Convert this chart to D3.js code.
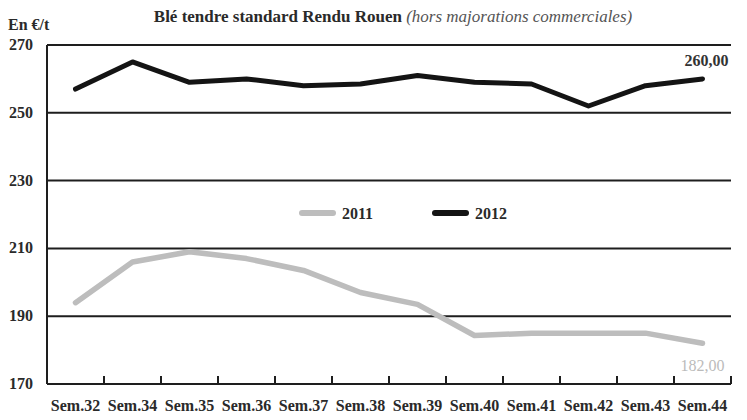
<!DOCTYPE html>
<html><head><meta charset="utf-8">
<script src="https://cdn.jsdelivr.net/npm/d3@7/dist/d3.min.js"></script>
<style>body{margin:0;background:#fff}svg{display:block}text{font-family:"Liberation Serif","Times New Roman",serif}</style>
</head><body>
<script>
const categories = ["Sem.32","Sem.34","Sem.35","Sem.36","Sem.37","Sem.38","Sem.39","Sem.40","Sem.41","Sem.42","Sem.43","Sem.44"];
const values2011 = [194,206,209,207,203.5,197,193.5,184.3,185,185,185,182];
const values2012 = [257,265,259,260,258,258.5,261,259,258.5,252,258,260];
const yTicks = [170,190,210,230,250,270];
const seriesNames = ["2011","2012"];

const W=747,H=420;
const m={l:47,r:16,t:45,b:36};
const svg=d3.select("body").append("svg").attr("width",W).attr("height",H);
const x=d3.scaleBand().domain(categories).range([m.l,W-m.r]);
const y=d3.scaleLinear().domain([170,270]).range([H-m.b,m.t]);

// gridlines
svg.append("g").selectAll("line").data(yTicks.filter(d=>d>170)).join("line")
  .attr("x1",m.l).attr("x2",W-m.r).attr("y1",d=>y(d)).attr("y2",d=>y(d))
  .attr("stroke","#1e1e1e").attr("stroke-width",2);

// y labels
svg.append("g").selectAll("text").data(yTicks).join("text")
  .attr("x",9).attr("y",d=>y(d)+5).attr("font-size",16).attr("font-weight","bold").attr("fill","#2a2a2a")
  .text(d=>d);

// axes
svg.append("line").attr("x1",m.l).attr("x2",m.l).attr("y1",y(270)).attr("y2",y(170)).attr("stroke","#1e1e1e").attr("stroke-width",2);
svg.append("line").attr("x1",m.l).attr("x2",W-m.r).attr("y1",y(170)).attr("y2",y(170)).attr("stroke","#1e1e1e").attr("stroke-width",2);
const bounds=categories.slice(1).map(c=>x(c)).concat([W-m.r]);
svg.append("g").selectAll("line").data(bounds).join("line")
  .attr("x1",d=>d).attr("x2",d=>d).attr("y1",y(170)).attr("y2",y(170)-8)
  .attr("stroke","#1e1e1e").attr("stroke-width",2);
svg.append("g").selectAll("text").data(categories).join("text")
  .attr("x",d=>x(d)+x.bandwidth()/2).attr("y",411).attr("text-anchor","middle")
  .attr("font-size",16).attr("font-weight","bold").attr("fill","#2a2a2a").text(d=>d);

const line=d3.line().x((d,i)=>x(categories[i])+x.bandwidth()/2).y(d=>y(d));
svg.append("path").datum(values2011).attr("d",line).attr("fill","none").attr("stroke","#bdbdbd").attr("stroke-width",5.5).attr("stroke-linejoin","round").attr("stroke-linecap","round");
svg.append("path").datum(values2012).attr("d",line).attr("fill","none").attr("stroke","#141414").attr("stroke-width",5).attr("stroke-linejoin","round").attr("stroke-linecap","round");

// end labels
const lastX=x(categories[11])+x.bandwidth()/2;
svg.append("text").attr("x",lastX+4).attr("y",y(values2012[11])-13).attr("text-anchor","middle")
  .attr("font-size",16).attr("font-weight","bold").attr("fill","#333").text("260,00");
svg.append("text").attr("x",lastX).attr("y",371).attr("text-anchor","middle")
  .attr("font-size",16).attr("fill","#bbb").text("182,00");

// legend
const leg=[{n:seriesNames[0],c:"#bdbdbd",x:302},{n:seriesNames[1],c:"#141414",x:435}];
leg.forEach(l=>{
  svg.append("line").attr("x1",l.x).attr("x2",l.x+31).attr("y1",213).attr("y2",213).attr("stroke",l.c).attr("stroke-width",6).attr("stroke-linecap","round");
  svg.append("text").attr("x",l.x+40).attr("y",219).attr("font-size",16).attr("font-weight","bold").attr("fill","#2a2a2a").text(l.n);
});

// titles
svg.append("text").attr("x",8).attr("y",30).attr("font-size",16).attr("font-weight","bold").attr("fill","#2a2a2a").text("En €/t");
const t=svg.append("text").attr("x",393).attr("y",22).attr("text-anchor","middle").attr("font-size",17);
t.append("tspan").attr("font-weight","bold").attr("fill","#2a2a2a").text("Blé tendre standard Rendu Rouen ");
t.append("tspan").attr("font-style","italic").attr("fill","#555").text("(hors majorations commerciales)");
</script>
</body></html>
